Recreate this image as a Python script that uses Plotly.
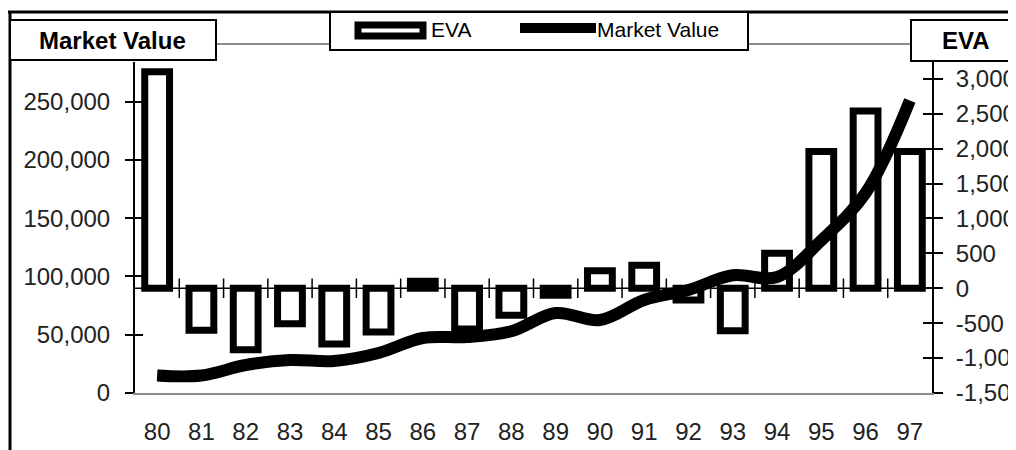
import plotly.graph_objects as go

# data
years = ['80', '81', '82', '83', '84', '85', '86', '87', '88',
         '89', '90', '91', '92', '93', '94', '95', '96', '97']
eva = [3100, -600, -880, -510, -800, -625, 100, -585, -385,
       -100, 250, 330, -170, -610, 500, 1960, 2540, 1960]
market_value = [15000, 15000, 24000, 28300, 27500, 34300, 47200, 48000, 53000,
                68600, 62600, 79800, 88400, 101000, 99500, 131000, 171600, 251000]

mv_ticks = [0, 50000, 100000, 150000, 200000, 250000]
mv_labels = ['0', '50,000', '100,000', '150,000', '200,000', '250,000']
eva_ticks = [-1500, -1000, -500, 0, 500, 1000, 1500, 2000, 2500, 3000]
eva_labels = ['-1,500', '-1,000', '-500', '0', '500', '1,000', '1,500',
              '2,000', '2,500', '3,000']

MV_RANGE = [0, 284000]
EVA_RANGE = [-1500, 3240]

# the page body has an 8px margin, so the figure is drawn 8px smaller
# and every pixel position below (page coordinates) is shifted by it
OFF = 8
W, H = 1016 - OFF, 450 - OFF
L, R, T, B = 135, 932, 62, 393   # plot area, page pixels


def px(x):
    return (x - L) / (R - L)


def py(y):
    return (B - y) / (B - T)


FONT = 'Liberation Sans, Arial, sans-serif'

fig = go.Figure()

# EVA bars on the base axis (right side) so the line overlay sits above them
fig.add_trace(go.Bar(
    x=years, y=eva, yaxis='y', width=0.56,
    marker=dict(color='white', line=dict(color='black', width=7)),
    name='EVA', showlegend=False,
))

fig.add_trace(go.Scatter(
    x=years, y=market_value, yaxis='y2', mode='lines',
    line=dict(color='black', width=12, shape='spline'),
    name='Market Value', showlegend=False,
))

# empty traces so the tick-only overlay axes get drawn
fig.add_trace(go.Scatter(x=[], y=[], yaxis='y3', showlegend=False, hoverinfo='skip'))
fig.add_trace(go.Scatter(x=[], y=[], yaxis='y4', showlegend=False, hoverinfo='skip'))

shapes = []
# category axis drawn at EVA = 0 with ticks between categories
shapes.append(dict(type='line', xref='x', yref='y', x0=-0.5, x1=len(years) - 0.5,
                   y0=0, y1=0, line=dict(color='black', width=1.5), layer='below'))
for i in range(len(years) - 1):
    shapes.append(dict(type='line', xref='x', yref='y', x0=i + 0.5, x1=i + 0.5,
                       y0=-140, y1=140, line=dict(color='black', width=1.5), layer='below'))

# outer frame
shapes.append(dict(type='line', xref='paper', yref='paper', x0=px(6), x1=px(1020),
                   y0=py(12), y1=py(12), line=dict(color='black', width=3)))
shapes.append(dict(type='line', xref='paper', yref='paper', x0=px(10), x1=px(10),
                   y0=py(12), y1=py(452), line=dict(color='black', width=3)))
# grey connectors between the title boxes and legend
shapes.append(dict(type='line', xref='paper', yref='paper', x0=px(216), x1=px(330),
                   y0=py(44), y1=py(44), line=dict(color='#8c8c8c', width=2)))
shapes.append(dict(type='line', xref='paper', yref='paper', x0=px(748), x1=px(911),
                   y0=py(44), y1=py(44), line=dict(color='#8c8c8c', width=2)))
# axis title boxes
shapes.append(dict(type='rect', xref='paper', yref='paper', x0=px(10), x1=px(216),
                   y0=py(60), y1=py(20), line=dict(color='black', width=2), fillcolor='white'))
shapes.append(dict(type='rect', xref='paper', yref='paper', x0=px(911), x1=px(1022),
                   y0=py(61), y1=py(20), line=dict(color='black', width=2), fillcolor='white'))
# legend box and symbols
shapes.append(dict(type='rect', xref='paper', yref='paper', x0=px(330), x1=px(748),
                   y0=py(50), y1=py(12), line=dict(color='black', width=2), fillcolor='white'))
shapes.append(dict(type='rect', xref='paper', yref='paper', x0=px(358), x1=px(423),
                   y0=py(36), y1=py(25), line=dict(color='black', width=7), fillcolor='white'))
shapes.append(dict(type='line', xref='paper', yref='paper', x0=px(520), x1=px(596),
                   y0=py(28), y1=py(28), line=dict(color='black', width=10)))

annotations = [
    dict(text='<b>Market Value</b>', xref='paper', yref='paper', x=px(112), y=py(40),
         showarrow=False, font=dict(size=24, color='black', family=FONT),
         xanchor='center', yanchor='middle'),
    dict(text='<b>EVA</b>', xref='paper', yref='paper', x=px(966), y=py(41),
         showarrow=False, font=dict(size=24, color='black', family=FONT),
         xanchor='center', yanchor='middle'),
    dict(text='EVA', xref='paper', yref='paper', x=px(429), y=py(30),
         showarrow=False, font=dict(size=21, color='black', family=FONT),
         xanchor='left', yanchor='middle'),
    dict(text='Market Value', xref='paper', yref='paper', x=px(595), y=py(30),
         showarrow=False, font=dict(size=21, color='black', family=FONT),
         xanchor='left', yanchor='middle'),
]

tickfont = dict(size=24, color='#222', family=FONT)

fig.update_layout(
    width=W, height=H,
    margin=dict(l=L - OFF, r=W - (R - OFF), t=T - OFF, b=H - (B - OFF), pad=0,
                autoexpand=False),
    paper_bgcolor='white', plot_bgcolor='white',
    showlegend=False,
    font=dict(family=FONT, color='black'),
    xaxis=dict(type='category', range=[-0.5, len(years) - 0.5], automargin=False,
               showline=True, linecolor='#8c8c8c', linewidth=2,
               ticks='', showgrid=False, zeroline=False,
               tickfont=tickfont, ticklabelstandoff=16),
    yaxis=dict(side='right', anchor='x', range=EVA_RANGE, automargin=False,
               tickvals=eva_ticks, ticktext=eva_labels,
               showline=True, linecolor='black', linewidth=2,
               ticks='outside', ticklen=9, tickwidth=1.5, tickcolor='black',
               showgrid=False, zeroline=False,
               tickfont=tickfont, ticklabelstandoff=8),
    yaxis2=dict(side='left', anchor='x', overlaying='y', range=MV_RANGE, automargin=False,
                tickvals=mv_ticks, ticktext=mv_labels,
                showline=True, linecolor='black', linewidth=2,
                ticks='outside', ticklen=8, tickwidth=1.5, tickcolor='black',
                showgrid=False, zeroline=False,
                tickfont=tickfont, ticklabelstandoff=10),
    # inner halves of the crossing tick marks
    yaxis3=dict(side='right', anchor='x', overlaying='y', range=EVA_RANGE, automargin=False,
                tickvals=eva_ticks, showticklabels=False,
                ticks='inside', ticklen=9, tickwidth=1.5, tickcolor='black',
                showline=False, showgrid=False, zeroline=False),
    yaxis4=dict(side='left', anchor='x', overlaying='y', range=MV_RANGE, automargin=False,
                tickvals=mv_ticks, showticklabels=False,
                ticks='inside', ticklen=8, tickwidth=1.5, tickcolor='black',
                showline=False, showgrid=False, zeroline=False),
    shapes=shapes,
    annotations=annotations,
)

fig.write_html("out.html", config={'displayModeBar': False})
